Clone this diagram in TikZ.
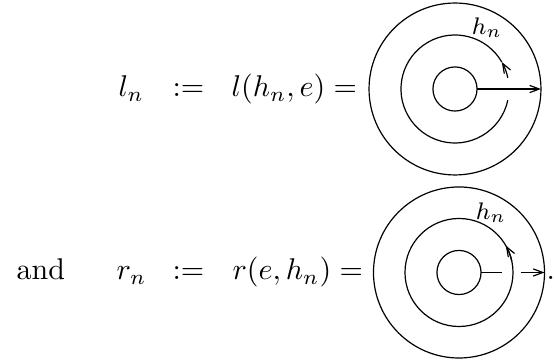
\documentclass[tikz,border=0pt]{standalone}
\usepackage{amsmath,amssymb}
\usepackage{tikz}
\usetikzlibrary{arrows.meta,positioning,calc}

\begin{document}
\begin{tikzpicture}[
    x=0.3333pt, y=0.3333pt,
    ring/.style={circle, draw, inner sep=0pt, outer sep=0pt},
    txt/.style={inner sep=0pt, anchor=base west},
    lbl/.style={inner sep=0pt, font=\footnotesize},
    arr/.style={-{Straight Barb[length=3.2pt, width=2.4pt]}}
]
    \useasboundingbox (0,0) rectangle (554,361);

    % first line: l_n
    \node [txt] (lhs1) at (118,264) {$l_n$};
    \node [txt] (def1) at (172,264) {$:=$};
    \node [txt] (rhs1) at (231,264) {$l(h_n,e) =$};

    \node [ring, minimum size=57.3pt] (outA) at (455,272) {};
    \node [ring, minimum size=14.7pt] (inA) at (455,272) {};
    \draw [arr] (inA.east) -- (outA.east);
    \draw [arr] ($(outA.center)+(12:18pt)$) arc (12:30:18pt);
    \draw ($(outA.center)+(30:18pt)$) arc (30:348:18pt);
    \node [lbl] (hA) at (487,333) {$h_n$};

    % second line: r_n
    \node [txt] (and2) at (16,81) {and};
    \node [txt] (lhs2) at (116,81) {$r_n$};
    \node [txt] (def2) at (172,81) {$:=$};
    \node [txt] (rhs2) at (232,81) {$r(e,h_n) =$};

    \node [ring, minimum size=57pt] (outB) at (459,88.5) {};
    \node [ring, minimum size=14.7pt] (inB) at (459,88.5) {};
    \node [ring, minimum size=36pt] (midB) at (459,88.5) {};
    \coordinate (gapL) at ($(midB.east)+(-11,0)$);
    \coordinate (gapR) at ($(midB.east)+(8,0)$);
    \draw (inB.east) -- (gapL);
    \draw [arr] (gapR) -- (outB.east);
    \draw [arr] ($(midB.center)+(12:18pt)$) arc (12:30:18pt);
    \node [lbl] (hB) at (491,148) {$h_n$};
    \node [txt] (dot2) at (546,81) {.};
\end{tikzpicture}
\end{document}
